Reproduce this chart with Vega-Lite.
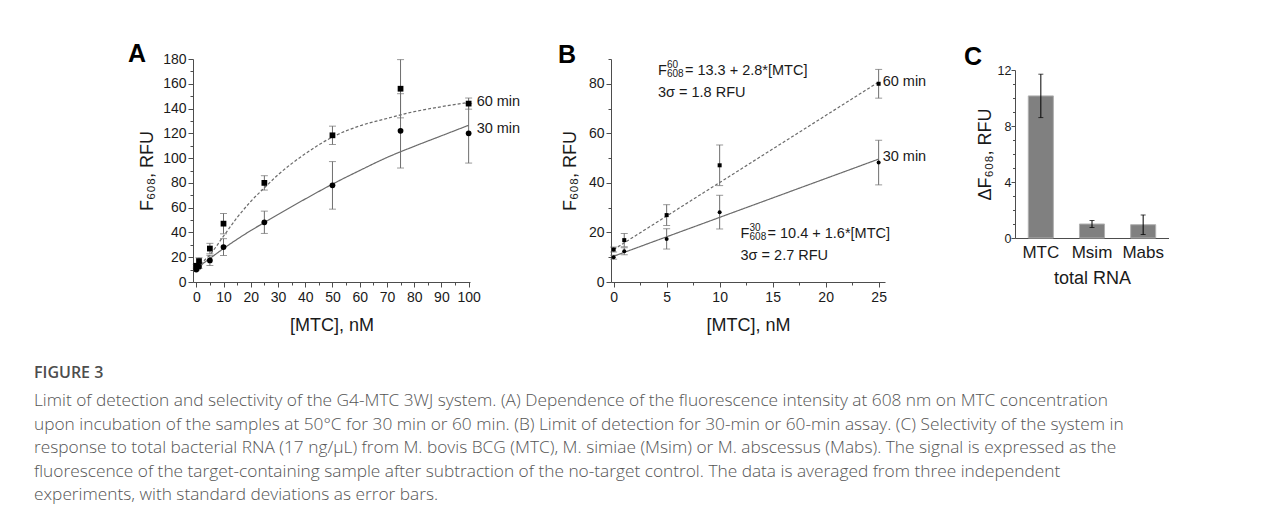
{
  "$schema": "https://vega.github.io/schema/vega-lite/v6.json",
  "background": "white",
  "padding": {"left": 34, "top": 42, "right": 0, "bottom": 0},
  "config": {
    "font": "Liberation Sans",
    "view": {"stroke": null},
    "axis": {
      "grid": false,
      "labelFont": "Liberation Sans",
      "labelFontSize": 14,
      "labelColor": "#1a1a1a",
      "titleFont": "Liberation Sans",
      "titleFontSize": 18,
      "titleFontWeight": "normal",
      "titleColor": "#1a1a1a",
      "domainColor": "#4d4d4d",
      "tickColor": "#4d4d4d",
      "labelOverlap": false,
      "labelFlush": false
    }
  },
  "title": {
    "text": "FIGURE 3",
    "subtitle": [
      "Limit of detection and selectivity of the G4-MTC 3WJ system. (A) Dependence of the fluorescence intensity at 608 nm on MTC concentration",
      "upon incubation of the samples at 50°C for 30 min or 60 min. (B) Limit of detection for 30-min or 60-min assay. (C) Selectivity of the system in",
      "response to total bacterial RNA (17 ng/μL) from M. bovis BCG (MTC), M. simiae (Msim) or M. abscessus (Mabs). The signal is expressed as the",
      "fluorescence of the target-containing sample after subtraction of the no-target control. The data is averaged from three independent",
      "experiments, with standard deviations as error bars."
    ],
    "orient": "bottom",
    "anchor": "start",
    "frame": "bounds",
    "dx": -94,
    "offset": 31,
    "font": "Open Sans",
    "fontSize": 16,
    "fontWeight": 600,
    "color": "#4d4d4d",
    "subtitleFont": "Open Sans",
    "subtitleFontSize": 17.3,
    "subtitleFontWeight": 300,
    "subtitleColor": "#555555",
    "subtitleLineHeight": 23.5,
    "subtitlePadding": 11
  },
  "datasets": {
    "fl": [
      {"conc": 0, "t": "60 min", "mean": 13.1, "sd": 1.0},
      {"conc": 1, "t": "60 min", "mean": 16.9, "sd": 2.7},
      {"conc": 5, "t": "60 min", "mean": 27.0, "sd": 4.2},
      {"conc": 10, "t": "60 min", "mean": 47.1, "sd": 8.2},
      {"conc": 25, "t": "60 min", "mean": 80.0, "sd": 5.8},
      {"conc": 50, "t": "60 min", "mean": 118.4, "sd": 7.4},
      {"conc": 75, "t": "60 min", "mean": 156.0, "sd": 23.5},
      {"conc": 100, "t": "60 min", "mean": 144.0, "sd": 4.5},
      {"conc": 0, "t": "30 min", "mean": 10.0, "sd": 0.8},
      {"conc": 1, "t": "30 min", "mean": 12.4, "sd": 1.4},
      {"conc": 5, "t": "30 min", "mean": 17.4, "sd": 4.1},
      {"conc": 10, "t": "30 min", "mean": 28.2, "sd": 6.8},
      {"conc": 25, "t": "30 min", "mean": 48.2, "sd": 9.0},
      {"conc": 50, "t": "30 min", "mean": 78.0, "sd": 19.2},
      {"conc": 75, "t": "30 min", "mean": 122.0, "sd": 30.0},
      {"conc": 100, "t": "30 min", "mean": 120.0, "sd": 24.0}
    ],
    "fitA": [
      {"x": 0, "y": 11.0, "t": "30 min"},
      {"x": 5, "y": 19.0, "t": "30 min"},
      {"x": 10, "y": 27.0, "t": "30 min"},
      {"x": 15, "y": 34.5, "t": "30 min"},
      {"x": 20, "y": 41.5, "t": "30 min"},
      {"x": 25, "y": 48.0, "t": "30 min"},
      {"x": 30, "y": 54.5, "t": "30 min"},
      {"x": 40, "y": 67.0, "t": "30 min"},
      {"x": 50, "y": 79.0, "t": "30 min"},
      {"x": 60, "y": 90.0, "t": "30 min"},
      {"x": 70, "y": 100.5, "t": "30 min"},
      {"x": 80, "y": 109.5, "t": "30 min"},
      {"x": 90, "y": 118.0, "t": "30 min"},
      {"x": 100, "y": 126.5, "t": "30 min"},
      {"x": 0, "y": 12.0, "t": "60 min"},
      {"x": 5, "y": 22.0, "t": "60 min"},
      {"x": 10, "y": 37.0, "t": "60 min"},
      {"x": 15, "y": 52.0, "t": "60 min"},
      {"x": 20, "y": 65.0, "t": "60 min"},
      {"x": 25, "y": 76.0, "t": "60 min"},
      {"x": 30, "y": 86.5, "t": "60 min"},
      {"x": 40, "y": 103.5, "t": "60 min"},
      {"x": 50, "y": 117.0, "t": "60 min"},
      {"x": 60, "y": 126.0, "t": "60 min"},
      {"x": 70, "y": 132.0, "t": "60 min"},
      {"x": 80, "y": 137.5, "t": "60 min"},
      {"x": 90, "y": 141.5, "t": "60 min"},
      {"x": 100, "y": 145.0, "t": "60 min"}
    ],
    "fitB": [
      {"x": 0, "y": 10.4, "t": "30 min"},
      {"x": 25, "y": 49.6, "t": "30 min"},
      {"x": 0, "y": 13.1, "t": "60 min"},
      {"x": 25, "y": 80.7, "t": "60 min"}
    ],
    "labA": [
      {"x": 100, "y": 145.5, "lab": "60 min"},
      {"x": 100, "y": 123.5, "lab": "30 min"}
    ],
    "labB": [
      {"x": 25, "y": 80.7, "lab": "60 min"},
      {"x": 25, "y": 50.5, "lab": "30 min"}
    ],
    "eqB": [
      {"x": 4.18, "y": 83.4, "sup": "60", "rest": "= 13.3 + 2.8*[MTC]", "l2": "3σ = 1.8 RFU"},
      {"x": 11.97, "y": 17.8, "sup": "30", "rest": "= 10.4 + 1.6*[MTC]", "l2": "3σ = 2.7 RFU"}
    ],
    "rna": [
      {"src": "MTC", "d": 10.15, "sd": 1.55},
      {"src": "Msim", "d": 1.0, "sd": 0.25},
      {"src": "Mabs", "d": 0.95, "sd": 0.7}
    ]
  },
  "spacing": 37,
  "hconcat": [
    {
      "width": 277,
      "height": 223,
      "title": {"text": "A", "anchor": "start", "frame": "group", "font": "Liberation Sans", "fontSize": 25, "fontWeight": "bold", "color": "black", "dx": -65, "offset": -15},
      "resolve": {"axis": {"x": "independent", "y": "independent"}},
      "layer": [
        {
          "data": {"name": "fitA"},
          "mark": {"type": "line", "interpolate": "monotone", "color": "#6b6b6b", "strokeWidth": 1.2},
          "encoding": {
            "x": {"field": "x", "type": "quantitative", "scale": {"domain": [-1.2, 100.5], "nice": false, "zero": false},
              "axis": {"orient": "bottom", "title": "[MTC], nM", "values": [0,10,20,30,40,50,60,70,80,90,100], "labelOverlap": false,
                "tickSize": 5, "labelPadding": 3, "titlePadding": 12}},
            "y": {"field": "y", "type": "quantitative", "scale": {"domain": [0, 180], "nice": false},
              "axis": {"orient": "left", "title": "F₆₀₈, RFU", "values": [0,20,40,60,80,100,120,140,160,180], "labelOverlap": false,
                "tickSize": 5, "labelPadding": 2, "titlePadding": 6}},
            "strokeDash": {"field": "t", "type": "nominal", "scale": {"domain": ["30 min", "60 min"], "range": [[1, 0], [3, 2]]}, "legend": null}
          }
        },
        {
          "data": {"name": "fl"},
          "mark": {"type": "errorbar", "ticks": {"size": 7}, "color": "#6e6e6e", "thickness": 1},
          "encoding": {
            "x": {"field": "conc", "type": "quantitative", "axis": null},
            "y": {"field": "mean", "type": "quantitative", "axis": null},
            "yError": {"field": "sd"},
            "detail": {"field": "t", "type": "nominal"}
          }
        },
        {
          "data": {"name": "fl"},
          "mark": {"type": "point", "filled": true, "opacity": 1, "color": "black", "size": 33},
          "encoding": {
            "x": {"field": "conc", "type": "quantitative",
              "axis": {"orient": "bottom", "title": null, "labels": false, "domain": false, "tickSize": 3, "values": [5,15,25,35,45,55,65,75,85,95]}},
            "y": {"field": "mean", "type": "quantitative",
              "axis": {"orient": "left", "title": null, "labels": false, "domain": false, "tickSize": 3, "values": [10,30,50,70,90,110,130,150,170]}},
            "shape": {"field": "t", "type": "nominal", "scale": {"domain": ["30 min", "60 min"], "range": ["circle", "square"]}, "legend": null}
          }
        },
        {
          "data": {"name": "labA"},
          "mark": {"type": "text", "align": "left", "baseline": "middle", "dx": 8, "fontSize": 14.5, "color": "#1a1a1a"},
          "encoding": {
            "x": {"field": "x", "type": "quantitative", "axis": null},
            "y": {"field": "y", "type": "quantitative", "axis": null},
            "text": {"field": "lab"}
          }
        }
      ]
    },
    {
      "width": 274,
      "height": 223,
      "title": {"text": "B", "anchor": "start", "frame": "group", "font": "Liberation Sans", "fontSize": 25, "fontWeight": "bold", "color": "black", "dx": -53, "offset": -9},
      "resolve": {"axis": {"x": "independent", "y": "independent"}},
      "layer": [
        {
          "data": {"name": "fitB"},
          "mark": {"type": "line", "color": "#6b6b6b", "strokeWidth": 1.2},
          "encoding": {
            "x": {"field": "x", "type": "quantitative", "scale": {"domain": [-0.25, 25.6], "nice": false, "zero": false},
              "axis": {"orient": "bottom", "title": "[MTC], nM", "values": [0,5,10,15,20,25], "labelOverlap": false,
                "tickSize": 5, "labelPadding": 3, "titlePadding": 12}},
            "y": {"field": "y", "type": "quantitative", "scale": {"domain": [0, 90], "nice": false},
              "axis": {"orient": "left", "title": "F₆₀₈, RFU", "values": [0,20,40,60,80], "labelOverlap": false,
                "tickSize": 5, "labelPadding": 2, "titlePadding": 9}},
            "strokeDash": {"field": "t", "type": "nominal", "scale": {"domain": ["30 min", "60 min"], "range": [[1, 0], [3, 2]]}, "legend": null}
          }
        },
        {
          "data": {"name": "fl"},
          "transform": [{"filter": "datum.conc <= 25"}],
          "mark": {"type": "errorbar", "ticks": {"size": 7}, "color": "#6e6e6e", "thickness": 1},
          "encoding": {
            "x": {"field": "conc", "type": "quantitative", "axis": null},
            "y": {"field": "mean", "type": "quantitative", "axis": null},
            "yError": {"field": "sd"},
            "detail": {"field": "t", "type": "nominal"}
          }
        },
        {
          "data": {"name": "fl"},
          "transform": [{"filter": "datum.conc <= 25"}],
          "mark": {"type": "point", "filled": true, "opacity": 1, "color": "black", "size": 16},
          "encoding": {
            "x": {"field": "conc", "type": "quantitative",
              "axis": {"orient": "bottom", "title": null, "labels": false, "domain": false, "tickSize": 3, "values": [2.5,7.5,12.5,17.5,22.5]}},
            "y": {"field": "mean", "type": "quantitative",
              "axis": {"orient": "left", "title": null, "labels": false, "domain": false, "tickSize": 3, "values": [10,30,50,70,90]}},
            "shape": {"field": "t", "type": "nominal", "scale": {"domain": ["30 min", "60 min"], "range": ["circle", "square"]}, "legend": null}
          }
        },
        {
          "data": {"name": "labB"},
          "mark": {"type": "text", "align": "left", "baseline": "middle", "dx": 4, "fontSize": 14.5, "color": "#1a1a1a"},
          "encoding": {
            "x": {"field": "x", "type": "quantitative", "axis": null},
            "y": {"field": "y", "type": "quantitative", "axis": null},
            "text": {"field": "lab"}
          }
        },
        {
          "data": {"name": "eqB"},
          "mark": {"type": "text", "align": "left", "baseline": "alphabetic", "fontSize": 14.5, "color": "#1a1a1a", "text": "F"},
          "encoding": {
            "x": {"field": "x", "type": "quantitative", "axis": null},
            "y": {"field": "y", "type": "quantitative", "axis": null}
          }
        },
        {
          "data": {"name": "eqB"},
          "mark": {"type": "text", "align": "left", "baseline": "alphabetic", "fontSize": 10, "color": "#1a1a1a", "dx": 9, "dy": -7},
          "encoding": {
            "x": {"field": "x", "type": "quantitative", "axis": null},
            "y": {"field": "y", "type": "quantitative", "axis": null},
            "text": {"field": "sup"}
          }
        },
        {
          "data": {"name": "eqB"},
          "mark": {"type": "text", "align": "left", "baseline": "alphabetic", "fontSize": 10, "color": "#1a1a1a", "dx": 9, "dy": 2, "text": "608"},
          "encoding": {
            "x": {"field": "x", "type": "quantitative", "axis": null},
            "y": {"field": "y", "type": "quantitative", "axis": null}
          }
        },
        {
          "data": {"name": "eqB"},
          "mark": {"type": "text", "align": "left", "baseline": "alphabetic", "fontSize": 14.5, "color": "#1a1a1a", "dx": 27},
          "encoding": {
            "x": {"field": "x", "type": "quantitative", "axis": null},
            "y": {"field": "y", "type": "quantitative", "axis": null},
            "text": {"field": "rest"}
          }
        },
        {
          "data": {"name": "eqB"},
          "mark": {"type": "text", "align": "left", "baseline": "alphabetic", "fontSize": 14.5, "color": "#1a1a1a", "dy": 22},
          "encoding": {
            "x": {"field": "x", "type": "quantitative", "axis": null},
            "y": {"field": "y", "type": "quantitative", "axis": null},
            "text": {"field": "l2"}
          }
        }
      ]
    },
    {
      "width": 154,
      "height": 179,
      "title": {"text": "C", "anchor": "start", "frame": "group", "font": "Liberation Sans", "fontSize": 25, "fontWeight": "bold", "color": "black", "dx": -51, "offset": -11},
      "data": {"name": "rna"},
      "resolve": {"axis": {"y": "independent"}},
      "encoding": {
        "x": {"field": "src", "type": "nominal", "sort": ["MTC", "Msim", "Mabs"], "scale": {"paddingInner": 0.51, "paddingOuter": 0.26},
          "axis": {"title": "total RNA", "labelAngle": 0, "ticks": false, "labelFontSize": 17, "labelPadding": 6, "titlePadding": 9}}
      },
      "layer": [
        {
          "mark": {"type": "bar", "color": "#808080", "stroke": "#b0b0b0", "strokeWidth": 1},
          "encoding": {
            "y": {"field": "d", "type": "quantitative", "scale": {"domain": [0, 12], "range": [179, 11], "nice": false},
              "axis": {"orient": "left", "title": "ΔF₆₀₈, RFU", "values": [0,4,8,12], "labelOverlap": false,
                "tickSize": 4, "labelFontSize": 12.5, "labelPadding": 0, "titlePadding": 3}}
          }
        },
        {
          "mark": {"type": "errorbar", "ticks": {"size": 5}, "color": "black", "thickness": 1},
          "encoding": {
            "y": {"field": "d", "type": "quantitative",
              "axis": {"orient": "left", "title": null, "labels": false, "domain": false, "tickSize": 2.5, "values": [1,2,3,5,6,7,9,10,11]}},
            "yError": {"field": "sd"}
          }
        }
      ]
    }
  ]
}
